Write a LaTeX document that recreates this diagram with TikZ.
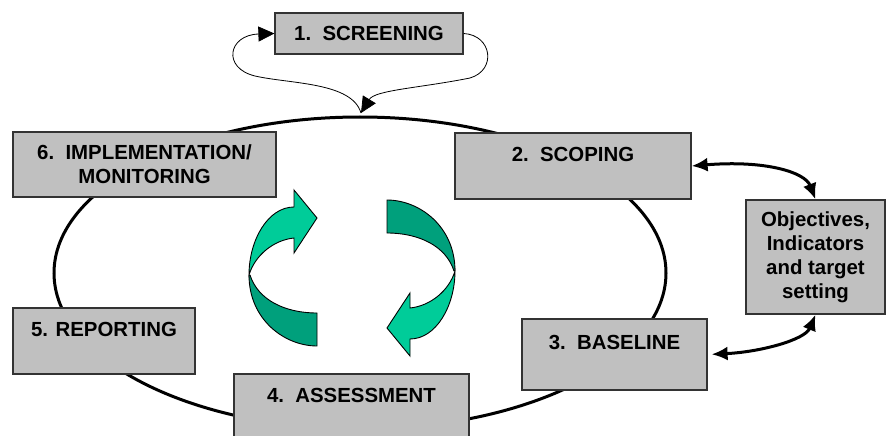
\documentclass[tikz,border=0pt]{standalone}
\usepackage{fontspec}
\setmainfont{Liberation Sans}
\usetikzlibrary{arrows.meta}
\definecolor{boxgray}{HTML}{C0C0C0}
\definecolor{swirllight}{HTML}{00CC99}
\definecolor{swirldark}{HTML}{00A07C}
\begin{document}
\begin{tikzpicture}[x=1pt,y=-1pt] % one unit = one pixel, y runs down
\tikzstyle{stage} = [rectangle, draw=black!80, line width=1.2pt, fill=boxgray, inner sep=0pt, align=center, font=\bfseries\fontsize{20.4}{24}\selectfont] % gray stage box
\tikzstyle{cycleline} = [line width=3pt] % the big ring
\tikzstyle{thin arrow} = [-{Triangle[length=16pt,width=15pt]}, line width=0.8pt] % screening loop
\tikzstyle{link} = [{Latex[length=16pt,width=14pt]}-{Latex[length=16pt,width=14pt]}, line width=3pt] % two-way links
\tikzstyle{swirl} = [draw=black, line width=0.9pt] % green ribbon arrows

\useasboundingbox (0,0) rectangle (887,436);

% the ring behind the stages
\draw[cycleline] (360,273) ellipse [x radius=306, y radius=156];
\coordinate (etop) at (361,113);

% stages
\node[stage, minimum width=188pt, minimum height=41pt] (screening) at (369,33.5) {1.\ \ SCREENING};
\node[stage, minimum width=236pt, minimum height=66pt] (scoping) at (573,166) {2.\ \ SCOPING\\ \mbox{}};
\node[stage, minimum width=185pt, minimum height=71pt] (baseline) at (614.5,354.5) {3.\ \ BASELINE\\ \mbox{}};
\node[stage, minimum width=235pt, minimum height=66pt] (assessment) at (351.5,407) {4.\ \ ASSESSMENT\\ \mbox{}};
\node[stage, minimum width=182pt, minimum height=66pt] (reporting) at (104,341) {5. REPORTING\\ \mbox{}};
\node[stage, minimum width=263pt, minimum height=65pt] (implementation) at (144.5,164.5) {6.\ \ IMPLEMENTATION/\\ MONITORING};
\node[stage, minimum width=139pt, minimum height=114pt] (objectives) at (815.5,257) {Objectives,\\ Indicators\\ and target\\ setting};

% screening loops in and out of the ring
\draw[thin arrow] (etop) .. controls (352,82) and (290,84) .. (255,76) .. controls (222,68) and (228,35) .. (screening.west);
\draw[thin arrow] (screening.east) .. controls (492,35) and (497,70) .. (470,78) .. controls (420,88) and (375,90) .. (etop);

% objectives talk to scoping and baseline
\draw[link] (scoping.east) .. controls (765,160) and (805,172) .. (objectives.north);
\draw[link, shorten <=4pt] (baseline.east) .. controls (760,352) and (805,340) .. (objectives.south);

% two green ribbon arrows, second one turned half round
\foreach \turn in {0,180}{
  \begin{scope}[shift={(352,273)}, rotate=\turn]
    \filldraw[swirl, fill=swirldark] (-103,2) .. controls (-103,47) and (-67,73) .. (-35,73) -- (-35,40) .. controls (-67,40) and (-94,27) .. (-102,2) -- cycle;
    \filldraw[swirl, fill=swirllight] (-58,-66) .. controls (-84,-66) and (-103,-33) .. (-103,2) .. controls (-97,-18) and (-78,-33) .. (-58,-35) -- (-58,-20) -- (-35,-55) -- (-58,-83) -- cycle;
  \end{scope}
}
\end{tikzpicture}
\end{document}
